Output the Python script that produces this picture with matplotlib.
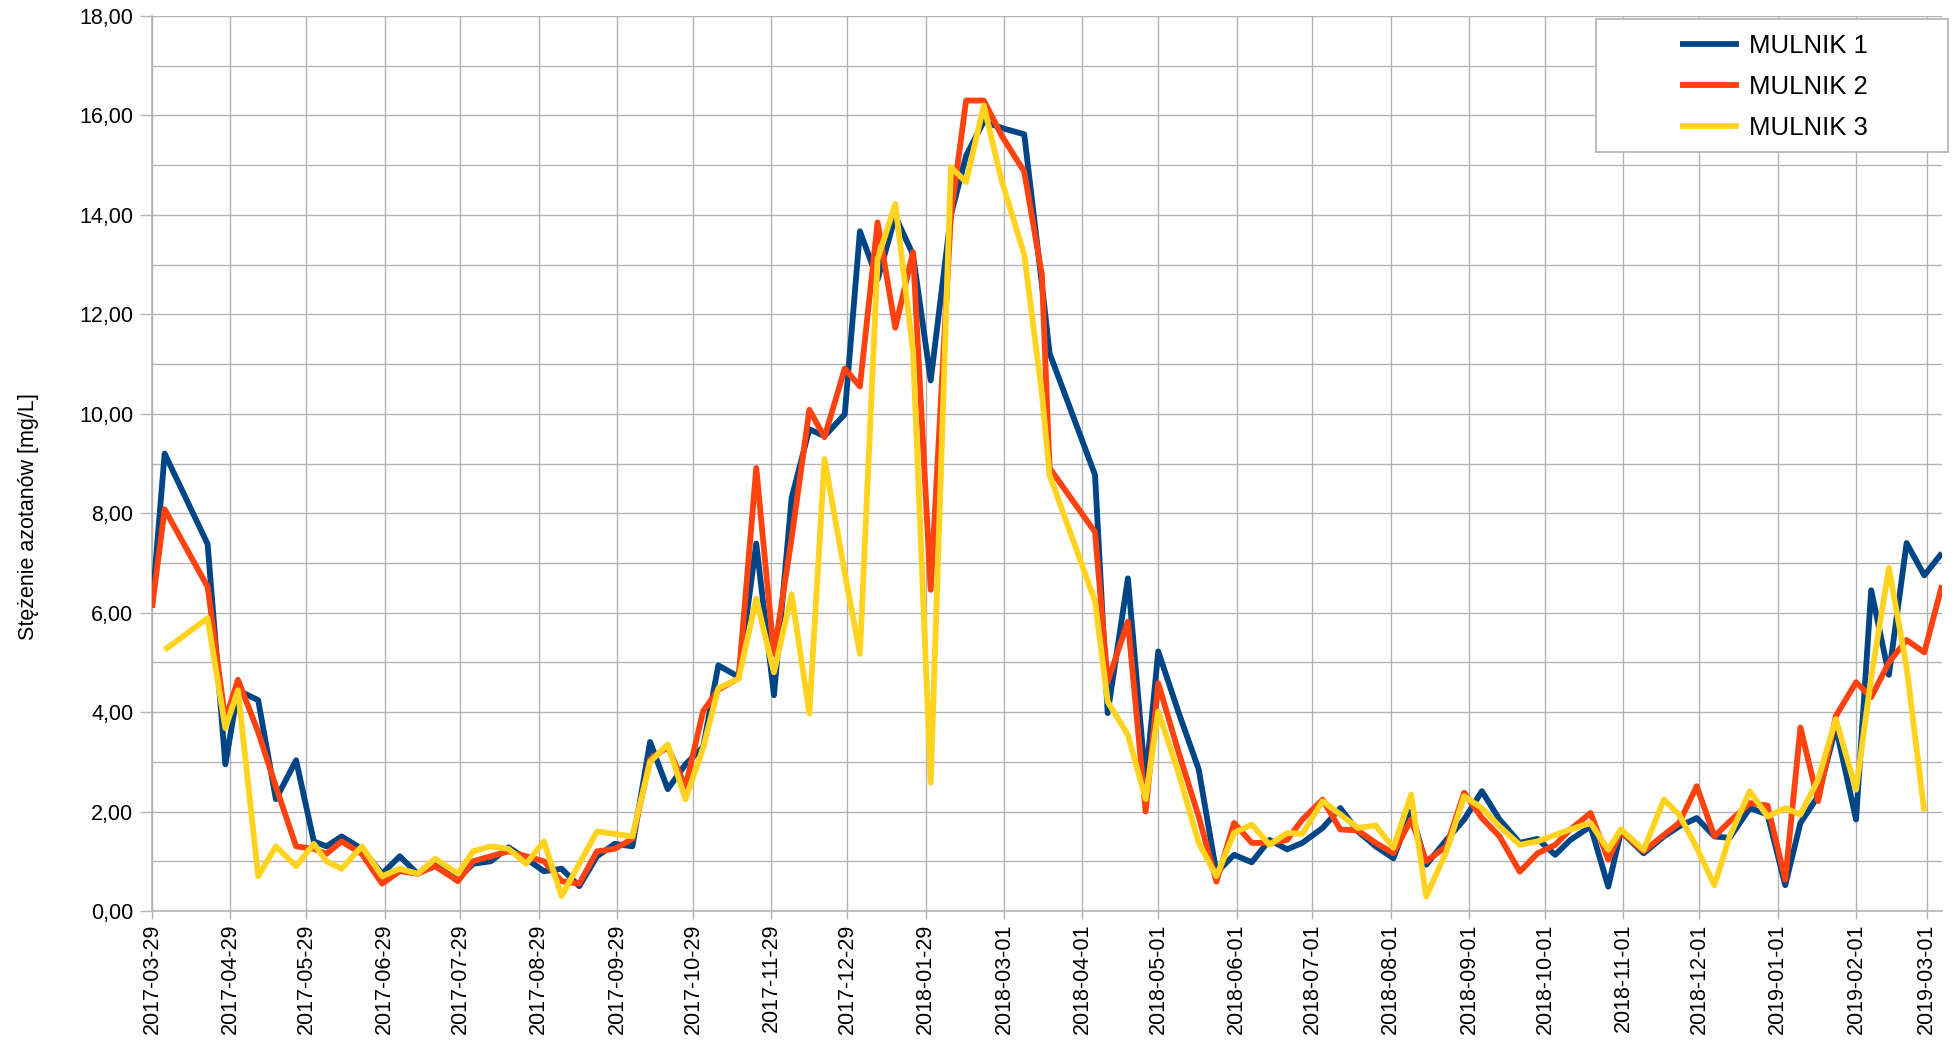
import matplotlib
matplotlib.use('Agg')
import matplotlib.pyplot as plt
import matplotlib.dates as mdates
from matplotlib.patches import Rectangle
from matplotlib.ticker import MultipleLocator, FuncFormatter, FixedLocator
import numpy as np

nan = np.nan

dates = [
    '2017-03-29', '2017-04-03', '2017-04-20', '2017-04-27', '2017-05-02', '2017-05-10',
    '2017-05-17', '2017-05-25', '2017-06-01', '2017-06-06', '2017-06-12', '2017-06-20',
    '2017-06-28', '2017-07-05', '2017-07-12', '2017-07-19', '2017-07-28', '2017-08-03',
    '2017-08-10', '2017-08-17', '2017-08-24', '2017-08-31', '2017-09-07', '2017-09-14',
    '2017-09-21', '2017-09-28', '2017-10-05', '2017-10-12', '2017-10-19', '2017-10-26',
    '2017-11-02', '2017-11-08', '2017-11-16', '2017-11-23', '2017-11-30', '2017-12-07',
    '2017-12-14', '2017-12-20', '2017-12-28', '2018-01-03', '2018-01-10', '2018-01-17',
    '2018-01-24', '2018-01-31', '2018-02-08', '2018-02-14', '2018-02-21', '2018-02-28',
    '2018-03-09', '2018-03-16', '2018-03-19', '2018-04-06', '2018-04-11', '2018-04-19',
    '2018-04-26', '2018-05-01', '2018-05-09', '2018-05-17', '2018-05-24', '2018-05-31',
    '2018-06-07', '2018-06-14', '2018-06-21', '2018-06-27', '2018-07-05', '2018-07-12',
    '2018-07-19', '2018-07-26', '2018-08-02', '2018-08-09', '2018-08-15', '2018-08-23',
    '2018-08-30', '2018-09-06', '2018-09-13', '2018-09-21', '2018-09-28', '2018-10-05',
    '2018-10-11', '2018-10-19', '2018-10-26', '2018-10-31', '2018-11-09', '2018-11-17',
    '2018-11-23', '2018-11-30', '2018-12-07', '2018-12-13', '2018-12-21', '2018-12-28',
    '2019-01-04', '2019-01-10', '2019-01-17', '2019-01-24', '2019-02-01', '2019-02-07',
    '2019-02-14', '2019-02-21', '2019-02-28', '2019-03-07',
]

mulnik1 = [
    6.10, 9.20, 7.38, 2.95, 4.44, 4.24, 2.25, 3.03, 1.40, 1.30,
    1.50, 1.25, 0.75, 1.10, 0.75, 0.95, 0.65, 0.95, 1.00, 1.28,
    1.05, 0.80, 0.85, 0.50, 1.10, 1.35, 1.30, 3.40, 2.45, 2.95,
    3.30, 4.94, 4.71, 7.39, 4.34, 8.31, 9.69, 9.55, 9.99, 13.67,
    12.70, 13.97, 13.20, 10.67, 14.00, 15.19, 15.88, 15.75, 15.62, 12.60,
    11.22, 8.77, 3.98, 6.69, 2.60, 5.22, 4.00, 2.85, 0.77, 1.13,
    0.98, 1.43, 1.24, 1.37, 1.67, 2.07, 1.60, 1.30, 1.06, 2.00,
    0.93, 1.43, 1.84, 2.41, 1.84, 1.37, 1.45, 1.13, 1.43, 1.70,
    0.49, 1.60, 1.16, 1.50, 1.70, 1.87, 1.50, 1.47, 2.07, 1.94,
    0.52, 1.77, 2.31, 3.70, 1.84, 6.45, 4.75, 7.40, 6.75, 7.20,
]

mulnik2 = [
    6.10, 8.08, 6.52, 3.84, 4.65, 3.60, 2.50, 1.30, 1.25, 1.15,
    1.40, 1.15, 0.55, 0.80, 0.75, 0.90, 0.60, 1.00, 1.10, 1.20,
    1.10, 1.00, 0.60, 0.55, 1.20, 1.25, 1.45, 3.05, 3.30, 2.50,
    4.02, 4.45, 4.68, 8.91, 5.17, 7.50, 10.08, 9.53, 10.91, 10.55,
    13.85, 11.73, 13.25, 6.46, 14.00, 16.30, 16.30, 15.60, 14.87, 12.79,
    8.91, 7.62, 4.61, 5.82, 2.00, 4.58, 3.20, 1.90, 0.59, 1.77,
    1.37, 1.37, 1.43, 1.84, 2.24, 1.64, 1.62, 1.37, 1.16, 1.84,
    1.00, 1.30, 2.38, 1.87, 1.50, 0.79, 1.16, 1.33, 1.64, 1.97,
    1.03, 1.60, 1.20, 1.53, 1.77, 2.51, 1.50, 1.80, 2.17, 2.12,
    0.63, 3.69, 2.21, 3.92, 4.60, 4.30, 5.00, 5.45, 5.20, 6.55,
]

mulnik3 = [
    nan, 5.25, 5.89, 3.68, 4.44, 0.70, 1.30, 0.90, 1.35, 1.00,
    0.85, 1.30, 0.70, 0.85, 0.75, 1.05, 0.75, 1.20, 1.30, 1.25,
    0.95, 1.40, 0.30, 0.95, 1.60, 1.55, 1.50, 3.00, 3.35, 2.25,
    3.28, 4.48, 4.67, 6.28, 4.80, 6.37, 3.97, 9.09, 6.80, 5.17,
    13.11, 14.22, 11.27, 2.58, 14.96, 14.66, 16.20, 14.70, 13.20, 10.40,
    8.77, 6.23, 4.21, 3.54, 2.25, 4.01, 2.78, 1.37, 0.70, 1.57,
    1.74, 1.33, 1.57, 1.55, 2.21, 1.94, 1.67, 1.72, 1.27, 2.34,
    0.29, 1.20, 2.31, 2.07, 1.70, 1.33, 1.40, 1.53, 1.64, 1.77,
    1.23, 1.64, 1.23, 2.24, 1.94, 1.27, 0.52, 1.50, 2.41, 1.90,
    2.07, 1.94, 2.64, 3.86, 2.44, 4.70, 6.90, 4.90, 2.00, nan,
]

series_names = ['MULNIK 1', 'MULNIK 2', 'MULNIK 3']
series_colors = ['#004586', '#ff420e', '#ffd320']

tick_dates = [
    '2017-03-29', '2017-04-29', '2017-05-29', '2017-06-29', '2017-07-29', '2017-08-29',
    '2017-09-29', '2017-10-29', '2017-11-29', '2017-12-29', '2018-01-29', '2018-03-01',
    '2018-04-01', '2018-05-01', '2018-06-01', '2018-07-01', '2018-08-01', '2018-09-01',
    '2018-10-01', '2018-11-01', '2018-12-01', '2019-01-01', '2019-02-01', '2019-03-01',
]

y_label = 'Stężenie azotanów [mg/L]'

plt.rcParams['font.family'] = ['Liberation Sans', 'DejaVu Sans']

W, H = 1952, 1046
fig = plt.figure(figsize=(W / 100, H / 100), dpi=100)
L, R, T, B = 152, 1942, 16, 911
ax = fig.add_axes([L / W, 1 - B / H, (R - L) / W, (B - T) / H])

x = mdates.datestr2num(dates)
grid_c = '#b3b3b3'
lw = 4.2
for vals, name, col in zip([mulnik1, mulnik2, mulnik3], series_names, series_colors):
    ax.plot(x, np.array(vals, dtype=float), color=col, lw=lw, label=name,
            solid_joinstyle='round', solid_capstyle='butt', zorder=3)

ax.set_xlim(x[0], x[-1])
ax.set_ylim(0, 18)

ax.yaxis.set_major_locator(MultipleLocator(2))
ax.yaxis.set_minor_locator(MultipleLocator(1))
ax.yaxis.set_major_formatter(FuncFormatter(lambda v, p: ('%.2f' % v).replace('.', ',')))

tx = mdates.datestr2num(tick_dates)
ax.xaxis.set_major_locator(FixedLocator(tx))
ax.set_xticklabels(tick_dates, rotation=90)

ax.grid(True, which='major', axis='both', color=grid_c, lw=1.0, zorder=0)
ax.grid(True, which='minor', axis='y', color=grid_c, lw=1.0, zorder=0)
ax.set_axisbelow(True)

for s in ax.spines.values():
    s.set_visible(False)
for side in ('left', 'bottom'):
    ax.spines[side].set_visible(True)
    ax.spines[side].set_color(grid_c)
    ax.spines[side].set_linewidth(1.2)

ax.tick_params(axis='y', which='major', direction='out', length=8.5, width=1, color=grid_c,
               labelsize=15.5, pad=5, labelcolor='black')
ax.tick_params(axis='y', which='minor', length=0)
ax.tick_params(axis='x', which='major', direction='out', length=6, width=1, color=grid_c,
               labelsize=15.5, pad=3, labelcolor='black')

fig.text(29 / W, 1 - 517 / H, y_label, rotation=90, ha='center', va='center', fontsize=15.5)

# legend box
lx0, ly0, lx1, ly1 = 1596, 19, 1948, 152
fig.add_artist(Rectangle((lx0 / W, 1 - ly1 / H), (lx1 - lx0) / W, (ly1 - ly0) / H,
                         transform=fig.transFigure, facecolor='white', edgecolor=grid_c,
                         lw=1.2, zorder=4))
handles, labels = ax.get_legend_handles_labels()
leg = fig.legend(handles, labels, loc='upper left', bbox_to_anchor=(1680 / W, 1 - 34 / H),
                 frameon=False, fontsize=18.5, handlelength=2.3, handletextpad=0.38,
                 borderpad=0, borderaxespad=0, labelspacing=0.67)
leg.set_zorder(5)

fig.savefig('out.png', dpi=100)
